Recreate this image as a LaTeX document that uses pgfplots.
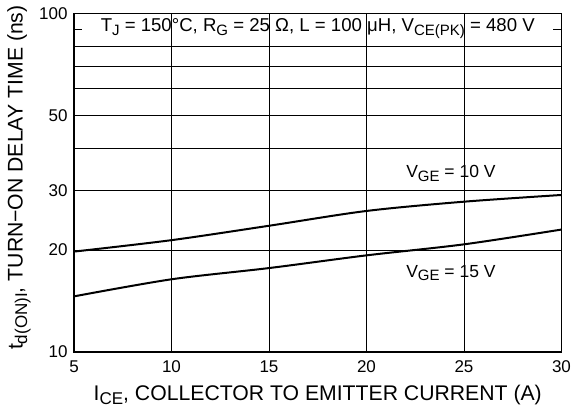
\documentclass[border=0pt]{standalone}
\usepackage{fontspec}
\setmainfont{Liberation Sans}
\usepackage{graphicx}
\usepackage{pgfplots}
\pgfplotsset{compat=1.18}
\newcommand{\sub}[1]{\raisebox{-0.4ex}{\fontsize{15}{16}\selectfont #1}}
\newcommand{\lsub}[1]{\raisebox{-0.4ex}{\fontsize{17}{18}\selectfont #1}}
\begin{document}
\begin{tikzpicture}
\begin{axis}[
  scale only axis, width=487.5pt, height=338.5pt,
  ymode=log, xmin=5, xmax=30, ymin=10, ymax=100,
  xtick={5,10,15,20,25,30},
  ytick={10,20,30,40,50,60,70,80,100},
  yticklabels={10,20,30,,50,,,,100},
  minor ytick={}, yminorgrids=false,
  major tick length=0pt, minor tick length=0pt,
  xmajorgrids, ymajorgrids,
  major grid style={black, line width=0.7pt},
  axis line style={line width=1.8pt},
  /pgf/number format/assume math mode=true,
  tick label style={font=\fontsize{17}{18}\selectfont},
  xticklabel style={yshift=-5pt},
  yticklabel style={xshift=-3pt},
  label style={font=\fontsize{21.2}{23}\selectfont},
  xlabel={I\lsub{CE}, COLLECTOR TO EMITTER CURRENT (A)},
  ylabel={t\lsub{d(ON)I}, TURN−ON DELAY TIME (ns)},
  xlabel style={at={(axis description cs:0.5,-0.127)}, anchor=center},
  ylabel style={at={(axis description cs:-0.113,0.515)}, anchor=center, rotate=0},
  clip=false,
]
\addplot[black, line width=2pt, smooth] coordinates {
  (5,19.8) (10,21.4) (15,23.6) (20,26.1) (25,27.8) (30,29.1)};
\addplot[black, line width=2pt, smooth] coordinates {
  (5,14.6) (10,16.4) (15,17.7) (20,19.3) (25,20.8) (30,23.0)};
\draw[black, line width=0.7pt] (axis cs:5,90) -- (axis cs:5.42,90);
\draw[black, line width=0.7pt] (axis cs:29.58,90) -- (axis cs:30,90);
\node[font=\fontsize{18.6}{20}\selectfont] at (axis cs:17.5,90) {T\sub{J} = 150°C, R\sub{G} = 25 Ω, L = 100 μH, V\sub{CE(PK)} = 480 V};
\node[font=\fontsize{17.5}{19}\selectfont] at (axis cs:24.33,33.7) {V\sub{GE} = 10 V};
\node[font=\fontsize{17.5}{19}\selectfont] at (axis cs:24.33,17.1) {V\sub{GE} = 15 V};
\end{axis}
\pgfresetboundingbox
\path ([shift={(-74pt,-60pt)}]current axis.south west) rectangle ([shift={(9.5pt,13.5pt)}]current axis.north east);
\end{tikzpicture}
\end{document}
